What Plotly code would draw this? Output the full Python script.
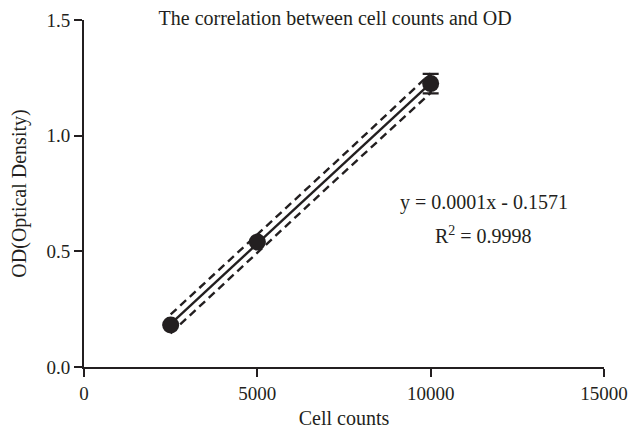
import numpy as np
import plotly.graph_objects as go

cell_counts = [2500, 5000, 10000]
od_values = [0.182, 0.540, 1.225]
od_error = [0.0, 0.0, 0.042]
band_half_width = 0.042  # vertical half-width of the dashed band at the ends

x_ticks = [0, 5000, 10000, 15000]
y_ticks = [0.0, 0.5, 1.0, 1.5]
y_tick_labels = ["0.0", "0.5", "1.0", "1.5"]

equation_text = "y = 0.0001x - 0.1571"
r2_text = "R<sup>2</sup> = 0.9998"

INK = "#231f20"
FONT = "Liberation Serif"
FS = 20
TICK_FS = 19

x = np.array(cell_counts, dtype=float)
y = np.array(od_values, dtype=float)
slope, intercept = np.polyfit(x, y, 1)
xs = np.linspace(x.min(), x.max(), 60)
fit = slope * xs + intercept
xm = x.mean()
sxx = ((x - xm) ** 2).sum()
shape = np.sqrt(1 / len(x) + (xs - xm) ** 2 / sxx)
shape = 0.75 + 0.25 * shape / shape.max()
half = band_half_width * shape

fig = go.Figure()
fig.add_trace(go.Scatter(x=xs, y=fit + half, mode="lines",
                         line=dict(color=INK, width=2.4, dash="8px,5px"), hoverinfo="skip"))
fig.add_trace(go.Scatter(x=xs, y=fit - half, mode="lines",
                         line=dict(color=INK, width=2.4, dash="8px,5px"), hoverinfo="skip"))
fig.add_trace(go.Scatter(x=xs, y=fit, mode="lines",
                         line=dict(color=INK, width=2.4), hoverinfo="skip"))
fig.add_trace(go.Scatter(x=cell_counts, y=od_values, mode="markers",
                         marker=dict(color=INK, size=17, symbol="circle"),
                         error_y=dict(type="data", array=od_error, visible=True,
                                      color=INK, thickness=2.4, width=8)))

fig.add_annotation(x=0.769, y=0.473, xref="paper", yref="paper",
                   xanchor="center", yanchor="middle",
                   text=equation_text, showarrow=False,
                   font=dict(family=FONT, size=FS, color=INK))
fig.add_annotation(x=0.769, y=0.380, xref="paper", yref="paper",
                   xanchor="center", yanchor="middle",
                   text=r2_text, showarrow=False,
                   font=dict(family=FONT, size=FS, color=INK))

axis_common = dict(showline=True, linecolor=INK, linewidth=2, ticks="outside",
                   tickcolor=INK, tickwidth=2, ticklen=8, showgrid=False, zeroline=False,
                   automargin=False,
                   tickfont=dict(family=FONT, size=TICK_FS, color=INK),
                   title_font=dict(family=FONT, size=FS, color=INK))

fig.update_layout(
    width=630, height=436,
    margin=dict(l=84, r=26, t=20, b=69),
    plot_bgcolor="white", paper_bgcolor="white",
    showlegend=False,
    title=dict(text="The correlation between cell counts and OD", x=0.532, xanchor="center",
               y=0.959, yanchor="middle", font=dict(family=FONT, size=FS, color=INK)),
    xaxis=dict(range=[0, 15000], tickvals=x_ticks, ticktext=[str(v) for v in x_ticks],
               title=dict(text="Cell counts", standoff=8), **axis_common),
    yaxis=dict(range=[0, 1.5], tickvals=y_ticks, ticktext=y_tick_labels,
               title=dict(text="OD(Optical Density)", standoff=14), **axis_common),
)

# remove the page's default body margin so the figure fills the window exactly
fig.write_html("out.html",
               config={"displayModeBar": False, "staticPlot": True},
               post_script="document.body.style.margin='0';document.body.style.overflow='hidden';")
